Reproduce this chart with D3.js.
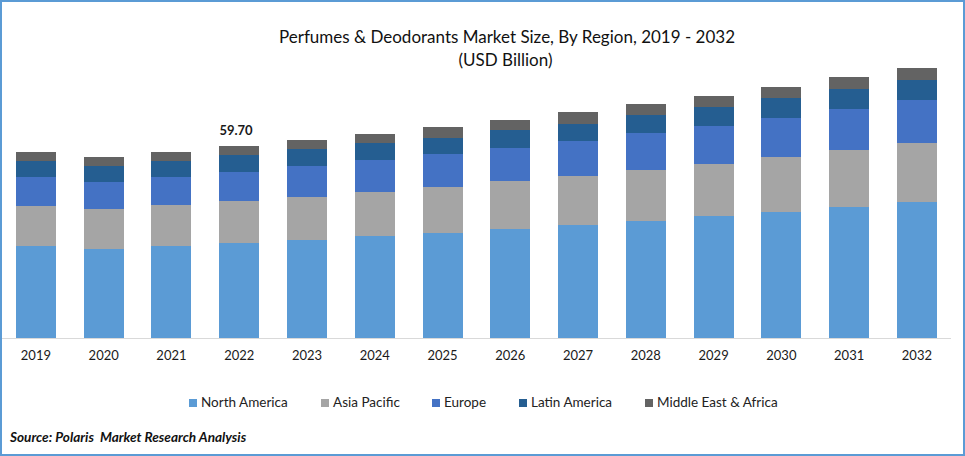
<!DOCTYPE html>
<html>
<head>
<meta charset="utf-8">
<script src="https://cdn.jsdelivr.net/npm/d3@7"></script>
<style>
  html, body { margin: 0; padding: 0; background: #fff; }
  svg { display: block; font-family: Lato, "Open Sans", sans-serif; }
</style>
</head>
<body>
<svg id="chart" width="965" height="456"></svg>
<script>
const years = ['2019', '2020', '2021', '2022', '2023', '2024', '2025', '2026', '2027', '2028', '2029', '2030', '2031', '2032'];
const regions = ['North America', 'Asia Pacific', 'Europe', 'Latin America', 'Middle East & Africa'];
const northAmerica = [28.6, 27.7, 28.6, 29.5, 30.5, 31.7, 32.6, 33.9, 35.1, 36.4, 37.9, 39.2, 40.7, 42.3];
const asiaPacific = [12.4, 12.4, 12.7, 13.1, 13.4, 13.7, 14.3, 14.9, 15.2, 15.9, 16.2, 17.1, 17.7, 18.3];
const europe = [9.0, 8.4, 8.7, 9.0, 9.6, 9.9, 10.3, 10.3, 10.9, 11.5, 11.8, 12.1, 12.7, 13.4];
const latinAmerica = [5.0, 5.0, 5.0, 5.3, 5.3, 5.3, 5.0, 5.6, 5.3, 5.6, 5.9, 6.2, 6.2, 6.2];
const middleEastAfrica = [2.8, 2.8, 2.8, 2.8, 2.8, 2.8, 3.4, 3.1, 3.7, 3.4, 3.4, 3.4, 3.7, 3.7];
const colors = ['#5b9bd5', '#a5a5a5', '#4472c4', '#255e91', '#636363'];
const legendWidths = [132, 111, 87, 126, 140];

const seriesValues = [northAmerica, asiaPacific, europe, latinAmerica, middleEastAfrica];
const table = years.map((year, i) => {
  const row = { year };
  regions.forEach((r, j) => { row[r] = seriesValues[j][i]; });
  return row;
});

const svg = d3.select('#chart');
const axisY = 338;

// scales: 59.70 sits 192px above the axis
const x = d3.scaleBand().domain(years).range([2.01, 950.79]).paddingInner(0.41).paddingOuter(0.205);
const y = d3.scaleLinear().domain([0, 59.7]).range([axisY, 146]);
const stacked = d3.stack().keys(regions)(table);

svg.append('g')
  .selectAll('g')
  .data(stacked)
  .join('g')
  .attr('fill', (d, i) => colors[i])
  .selectAll('rect')
  .data(d => d)
  .join('rect')
  .attr('x', d => x(d.data.year))
  .attr('y', d => y(d[1]))
  .attr('width', x.bandwidth())
  .attr('height', d => y(d[0]) - y(d[1]))
  .attr('shape-rendering', 'crispEdges');

// x axis
const xAxis = svg.append('g')
  .attr('transform', `translate(0,${axisY})`)
  .call(d3.axisBottom(x).tickSize(0).tickPadding(13));
xAxis.select('.domain').remove();
xAxis.append('line')
  .attr('x1', 2).attr('x2', 951)
  .attr('y1', 0.5).attr('y2', 0.5)
  .attr('stroke', '#d9d9d9').attr('stroke-width', 1);
xAxis.selectAll('text')
  .attr('font-family', 'Lato, "Open Sans", sans-serif')
  .attr('font-size', 13)
  .attr('fill', '#1a1a1a');

// label on 2022
svg.append('text')
  .attr('x', 236)
  .attr('y', 135)
  .attr('text-anchor', 'middle')
  .attr('font-size', 13)
  .attr('font-weight', 700)
  .attr('fill', '#1a1a1a')
  .text('59.70');

// titles
svg.append('text')
  .attr('x', 507).attr('y', 43)
  .attr('text-anchor', 'middle')
  .attr('font-size', 17)
  .attr('fill', '#111')
  .text('Perfumes & Deodorants Market Size, By Region, 2019 - 2032');
svg.append('text')
  .attr('x', 505.5).attr('y', 66)
  .attr('text-anchor', 'middle')
  .attr('font-size', 17)
  .attr('fill', '#111')
  .text('(USD Billion)');

// legend
const legend = svg.append('g')
  .selectAll('g')
  .data(regions)
  .join('g')
  .attr('transform', (d, i) => `translate(${189 + d3.sum(legendWidths.slice(0, i))},399)`);
legend.append('rect')
  .attr('width', 8).attr('height', 8)
  .attr('fill', (d, i) => colors[i]);
legend.append('text')
  .attr('x', 12).attr('y', 8)
  .attr('font-size', 13.5)
  .attr('fill', '#222')
  .text(d => d);

// source
svg.append('text')
  .attr('x', 10).attr('y', 442)
  .attr('font-size', 13.6)
  .attr('font-weight', 700)
  .attr('font-style', 'italic')
  .attr('fill', '#111')
  .style('white-space', 'pre')
  .text('Source: Polaris  Market Research Analysis');

// frame
svg.append('rect')
  .attr('x', 1).attr('y', 1)
  .attr('width', 963).attr('height', 454)
  .attr('fill', 'none')
  .attr('stroke', '#5b9bd5')
  .attr('stroke-width', 2);
</script>
</body>
</html>
